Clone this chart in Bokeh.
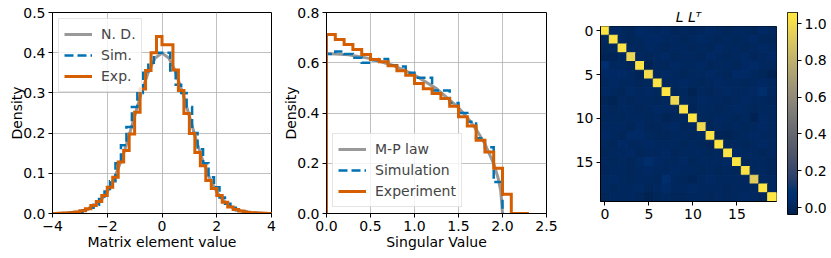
import numpy as np
from bokeh.plotting import figure
from bokeh.layouts import row, column
from bokeh.models import FixedTicker, NumeralTickFormatter, LinearColorMapper, ColumnDataSource
from bokeh.palettes import Cividis256
from bokeh.transform import linear_cmap
from bokeh.embed import file_html
from bokeh.resources import INLINE

FONT = "DejaVu Sans"
FS = "14px"
GREY = "#999999"
BLUE = "#0072B2"
ORANGE = "#D55E00"

# ---------------- panel 1: matrix element histogram ----------------
exp1_edges = np.linspace(-4.0, 4.0, 41)
exp1_vals = [0.0003, 0.0005, 0.001, 0.002, 0.004, 0.007, 0.012, 0.02, 0.03, 0.045,
             0.065, 0.09, 0.128, 0.157, 0.198, 0.252, 0.31, 0.356, 0.40, 0.44,
             0.42, 0.42, 0.357, 0.306, 0.249, 0.199, 0.152, 0.119, 0.082, 0.062,
             0.045, 0.028, 0.016, 0.01, 0.006, 0.003, 0.002, 0.001, 0.0005, 0.0003]
sim1_edges = np.linspace(-3.9, 3.9, 40)
sim1_vals = [0.0003, 0.0006, 0.0012, 0.0025, 0.0045, 0.008, 0.014, 0.022, 0.036, 0.055,
             0.08, 0.125, 0.17, 0.215, 0.265, 0.30, 0.35, 0.375, 0.40, 0.40,
             0.40, 0.356, 0.32, 0.30, 0.265, 0.20, 0.16, 0.125, 0.09, 0.065,
             0.04, 0.024, 0.014, 0.008, 0.0045, 0.0025, 0.0012, 0.0006, 0.0003]
nd_x = [-4.0, -3.75, -3.5, -3.25, -3.0, -2.75, -2.5, -2.25, -2.0, -1.75, -1.5, -1.25, -1.0,
        -0.75, -0.5, -0.25, 0.0, 0.25, 0.5, 0.75, 1.0, 1.25, 1.5, 1.75, 2.0, 2.25, 2.5,
        2.75, 3.0, 3.25, 3.5, 3.75, 4.0]
nd_y = [0.0001, 0.0004, 0.0009, 0.002, 0.0044, 0.0091, 0.0175, 0.0317, 0.054, 0.0863,
        0.1295, 0.1826, 0.242, 0.3011, 0.3521, 0.3867, 0.3989, 0.3867, 0.3521, 0.3011,
        0.242, 0.1826, 0.1295, 0.0863, 0.054, 0.0317, 0.0175, 0.0091, 0.0044, 0.002,
        0.0009, 0.0004, 0.0001]
p1_xticks = [-4, -2, 0, 2, 4]
p1_yticks = [0.0, 0.1, 0.2, 0.3, 0.4, 0.5]

# ---------------- panel 2: singular values ----------------
exp2_edges = np.linspace(0.0, 2.3, 24)
exp2_vals = [0.712, 0.693, 0.673, 0.653, 0.633, 0.613, 0.604, 0.588, 0.568, 0.55,
             0.517, 0.497, 0.478, 0.458, 0.427, 0.385, 0.348, 0.292, 0.245, 0.18,
             0.077, 0.0, 0.0]
sim2_edges = np.linspace(0.0, 2.0, 21)
sim2_vals = [0.635, 0.645, 0.635, 0.62, 0.60, 0.61, 0.615, 0.59, 0.585, 0.56,
             0.54, 0.54, 0.49, 0.49, 0.44, 0.40, 0.365, 0.30, 0.264, 0.125]
mp_x = [0.0, 0.25, 0.5, 0.75, 1.0, 1.25, 1.5, 1.6, 1.7, 1.8, 1.9, 1.95, 1.98, 2.0]
mp_y = [0.6366, 0.6316, 0.6164, 0.5902, 0.5513, 0.497, 0.4211, 0.382, 0.3354, 0.2775,
        0.1989, 0.1414, 0.0897, 0.0]
p2_xticks = [0.0, 0.5, 1.0, 1.5, 2.0, 2.5]
p2_yticks = [0.0, 0.2, 0.4, 0.6, 0.8]

# ---------------- panel 3: L L^T (values in hundredths) ----------------
llt_hundredths = [
    [104, 2, 1, 0, 3, 2, 1, 2, 0, 1, 0, 1, 2, 1, 0, 1, 1, 0, 2, 1],
    [1, 103, 1, 0, 1, 2, 2, 1, 1, 0, 1, 2, 1, 0, 1, 0, 1, 2, 0, 0],
    [0, 1, 103, 1, 0, 2, 1, 0, 1, 1, 0, 1, 0, 2, 1, 1, 0, 1, 2, 1],
    [-1, -1, 1, 97, 1, 0, 1, 2, 0, 1, 1, 0, 2, 1, 0, 1, 2, 0, 1, 2],
    [5, 1, 1, 0, 103, -2, 1, 0, 2, 1, 1, 2, 0, 1, 1, 0, 2, 3, 1, 1],
    [2, 2, 3, 1, -1, 100, 1, 2, 1, 0, 1, 1, 2, 1, 0, 3, 3, 1, 0, -2],
    [1, 2, 1, 1, 0, 1, 103, 1, 1, 2, 1, 0, 1, 2, 1, 1, 0, 1, 2, 1],
    [2, 1, 0, 2, 1, 2, 1, 104, 0, 1, -2, 1, 0, 1, 2, 1, 1, 2, 4, 1],
    [0, -1, 1, 0, 1, 1, 0, 1, 98, 1, 0, 2, 1, 1, 0, 1, 2, 1, 1, 0],
    [1, 0, 1, 1, 0, 1, 2, 1, 1, 103, -1, 1, 1, 0, 1, 2, 1, 0, 1, 1],
    [0, 1, 0, 1, 1, 0, 1, -1, 0, 1, 104, 1, 0, 1, 1, 0, 1, -2, 2, 1],
    [1, 1, 1, 0, 2, 0, 0, 1, 2, 0, 1, 99, 0, 1, 0, 1, 0, 1, 2, 1],
    [2, 1, 0, 3, 3, 1, 0, 0, 1, 1, 0, 1, 103, -1, -1, 0, 1, 2, 1, 1],
    [1, 0, 2, 1, 1, 2, 1, 1, 1, 0, 1, 0, -1, 104, 1, 1, 0, 1, 2, 1],
    [0, 1, 1, 2, 0, 1, 1, 2, 0, 1, 1, 1, 0, 1, 103, 2, 1, 1, 0, 1],
    [1, 0, 1, 0, 2, 4, 2, 1, 1, 2, 0, 1, 1, 1, 2, 104, 0, 1, 1, 0],
    [0, 1, 1, 0, 1, 2, 1, 1, 2, 1, 1, 0, 1, 0, 1, 0, 103, 1, 1, 0],
    [1, 2, 1, 0, 1, 1, 0, 4, 1, 0, -1, 1, 2, 1, 1, 1, 1, 93, 1, 1],
    [1, 0, 1, 1, 2, 0, 1, 3, 1, 1, 2, 1, 1, 1, 0, 1, 1, 1, 104, 1],
    [0, 1, 1, 1, 0, -2, 0, 1, 0, 0, 1, 1, 0, 1, 0, 1, 2, 1, 0, 105],
]
hm_ticks = [0, 5, 10, 15]
VMIN, VMAX = -0.038, 1.06
cb_ticks = [0.0, 0.2, 0.4, 0.6, 0.8, 1.0]


def stairs(edges, vals):
    xs, ys = [edges[0]], [0.0]
    for i, v in enumerate(vals):
        xs += [edges[i], edges[i + 1]]
        ys += [v, v]
    xs.append(edges[-1])
    ys.append(0.0)
    return xs, ys


def style(p, grid=True):
    p.outline_line_color = "black"
    p.outline_line_width = 1
    p.outline_line_alpha = 1
    p.background_fill_color = "white"
    p.border_fill_color = "white"
    for ax in p.axis:
        ax.axis_line_color = "black"
        ax.axis_line_width = 1
        ax.major_tick_line_color = "black"
        ax.major_tick_out = 4
        ax.major_tick_in = 0
        ax.minor_tick_line_color = None
        ax.major_label_standoff = 3
        ax.major_label_text_font = FONT
        ax.major_label_text_font_size = FS
        ax.major_label_text_color = "black"
        ax.axis_label_text_font = FONT
        ax.axis_label_text_font_size = FS
        ax.axis_label_text_font_style = "normal"
        ax.axis_label_text_color = "black"
        ax.axis_label_standoff = 0
    if grid:
        p.grid.grid_line_color = "#b0b0b0"
        p.grid.grid_line_width = 0.8
    else:
        p.grid.grid_line_color = None


def style_legend(p, loc):
    lg = p.legend[0]
    lg.location = loc
    lg.margin = 6
    lg.padding = 5
    lg.spacing = 1
    lg.glyph_width = 28
    lg.glyph_height = 20
    lg.label_height = 20
    lg.label_standoff = 9
    lg.label_text_font = FONT
    lg.label_text_font_size = FS
    lg.border_line_color = "#cccccc"
    lg.border_line_width = 1
    lg.background_fill_alpha = 0.8


# ---------- figure 1 ----------
p1 = figure(width=280, height=258, x_range=(-4, 4), y_range=(0, 0.5), title=None,
            output_backend="svg", toolbar_location=None,
            min_border_left=52, min_border_right=9, min_border_top=12, min_border_bottom=45)
p1.line(nd_x, nd_y, line_color=GREY, line_width=3, legend_label="N. D.")
xs, ys = stairs(sim1_edges, sim1_vals)
p1.line(xs, ys, line_color=BLUE, line_width=2.5, line_dash="9 4", line_join="miter",
        legend_label="Sim.")
xs, ys = stairs(exp1_edges, exp1_vals)
p1.line(xs, ys, line_color=ORANGE, line_width=3, line_join="miter", legend_label="Exp.")
p1.xaxis.ticker = FixedTicker(ticks=p1_xticks)
p1.xaxis.major_label_overrides = {-4: "\u22124", -2: "\u22122"}
p1.yaxis.ticker = FixedTicker(ticks=p1_yticks)
p1.yaxis.formatter = NumeralTickFormatter(format="0.0")
p1.xaxis.axis_label = "Matrix element value"
p1.yaxis.axis_label = "Density"
style(p1)
p1.yaxis.axis_label_standoff = -5
style_legend(p1, "top_left")

# ---------- figure 2 ----------
p2 = figure(width=280, height=258, x_range=(0, 2.5), y_range=(0, 0.8), title=None,
            output_backend="svg", toolbar_location=None,
            min_border_left=45, min_border_right=14, min_border_top=12, min_border_bottom=45)
p2.line(mp_x, mp_y, line_color=GREY, line_width=3, legend_label="M-P law")
xs, ys = stairs(sim2_edges, sim2_vals)
p2.line(xs, ys, line_color=BLUE, line_width=2.5, line_dash="9 4", line_join="miter",
        legend_label="Simulation")
xs, ys = stairs(exp2_edges, exp2_vals)
p2.line(xs, ys, line_color=ORANGE, line_width=3, line_join="miter", legend_label="Experiment")
p2.xaxis.ticker = FixedTicker(ticks=p2_xticks)
p2.xaxis.formatter = NumeralTickFormatter(format="0.0")
p2.yaxis.ticker = FixedTicker(ticks=p2_yticks)
p2.yaxis.formatter = NumeralTickFormatter(format="0.0")
p2.xaxis.axis_label = "Singular Value"
p2.yaxis.axis_label = "Density"
style(p2)
p2.yaxis.axis_label_standoff = -5
style_legend(p2, "bottom_left")

# ---------- figure 3: heatmap ----------
n = len(llt_hundredths)
cols, rows_, vals = [], [], []
for i in range(n):
    for j in range(n):
        rows_.append(i)
        cols.append(j)
        vals.append(llt_hundredths[i][j] / 100.0)
src = ColumnDataSource(dict(x=cols, y=rows_, v=vals))
p3 = figure(width=218, height=258, x_range=(-0.5, n - 0.5), y_range=(n - 0.5, -0.5),
            output_backend="svg", toolbar_location=None,
            min_border_left=40, min_border_right=2, min_border_top=26, min_border_bottom=57,
            title="L L\u1d40")
cmap = linear_cmap("v", Cividis256, VMIN, VMAX)
p3.rect(x="x", y="y", width=1, height=1, source=src, fill_color=cmap,
        line_color=cmap, line_width=1)
p3.xaxis.ticker = FixedTicker(ticks=hm_ticks)
p3.yaxis.ticker = FixedTicker(ticks=hm_ticks)
style(p3, grid=False)
p3.title.align = "center"
p3.title.text_font = FONT
p3.title.text_font_size = FS
p3.title.text_font_style = "italic"
p3.title.text_color = "black"
p3.title.standoff = 3

# ---------- figure 4: colour bar ----------
p4 = figure(width=53, height=258, x_range=(0, 1), y_range=(VMIN, VMAX), title=None,
            output_backend="svg", toolbar_location=None,
            x_axis_location=None, y_axis_location="right",
            min_border_left=9, min_border_right=34, min_border_top=12, min_border_bottom=44)
mapper = LinearColorMapper(palette=Cividis256, low=VMIN, high=VMAX)
grad = np.linspace(VMIN, VMAX, 256).reshape(256, 1)
p4.image(image=[grad], x=0, y=VMIN, dw=1, dh=VMAX - VMIN, color_mapper=mapper)
p4.yaxis.ticker = FixedTicker(ticks=cb_ticks)
p4.yaxis.formatter = NumeralTickFormatter(format="0.0")
style(p4, grid=False)
p4.yaxis.major_label_standoff = 3

layout = row(column(p1), column(p2), column(p3), column(p4))
open("out.html", "w").write(file_html(layout, INLINE))
